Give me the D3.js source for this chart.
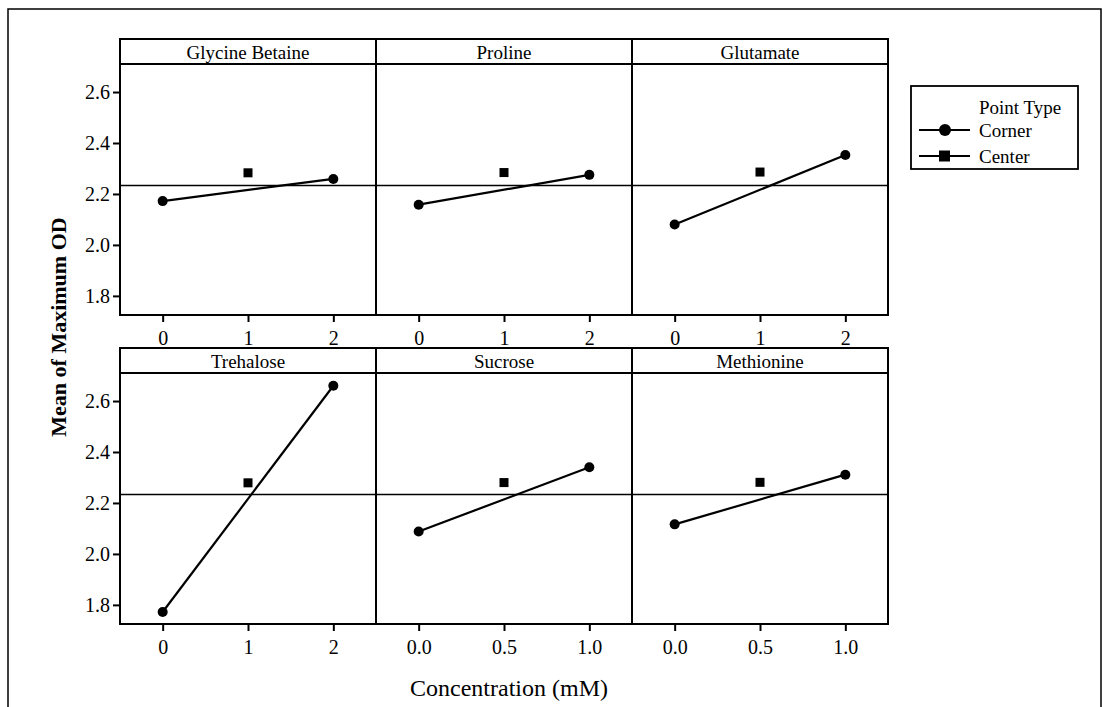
<!DOCTYPE html>
<html>
<head>
<meta charset="utf-8">
<script src="https://cdn.jsdelivr.net/npm/d3@7"></script>
<style>
  body { margin: 0; background: #fff; }
  svg text { font-family: "Liberation Serif", "DejaVu Serif", serif; fill: #000; }
</style>
</head>
<body>
<div id="chart"></div>
<script>
// Main effects plot: mean of maximum OD per factor level
const factors = ['Glycine Betaine', 'Proline', 'Glutamate', 'Trehalose', 'Sucrose', 'Methionine'];
const lowLevel = [0, 0, 0, 0, 0, 0];
const highLevel = [2, 2, 2, 2, 1, 1];
const centerLevel = [1, 1, 1, 1, 0.5, 0.5];
const cornerLow = [2.172, 2.158, 2.080, 1.772, 2.088, 2.116];
const cornerHigh = [2.259, 2.275, 2.353, 2.660, 2.340, 2.311];
const centerMean = [2.283, 2.284, 2.286, 2.279, 2.280, 2.281];
const grandMean = 2.233;
const yTicks = [1.8, 2.0, 2.2, 2.4, 2.6];
const xTicksWide = [0, 1, 2];
const xTicksNarrow = [0.0, 0.5, 1.0];
const legendLabels = ['Corner', 'Center'];

const W = 1103, H = 707;
const serif = '"Liberation Serif", "DejaVu Serif", serif';
const gridLeft = 120, colW = 256;
const rowTop = [39, 348], stripH = 25, plotH = 251;

const svg = d3.select('#chart').append('svg')
	.attr('width', W).attr('height', H)
	.attr('font-family', serif);

// outer frame (bottom edge runs off the picture)
svg.append('rect')
	.attr('x', 8).attr('y', 9)
	.attr('width', 1093).attr('height', 720)
	.attr('fill', 'none').attr('stroke', '#000').attr('stroke-width', 1.5);

const y = d3.scaleLinear().domain([1.725, 2.71]).range([plotH, 0]);

factors.forEach(function(name, i) {
	const col = i % 3, row = Math.floor(i / 3);
	const px = gridLeft + col * colW;
	const top = rowTop[row];
	const py = top + stripH;

	const wide = highLevel[i] == 2;
	const x = d3.scaleLinear()
		.domain(wide ? [-0.5, 2.5] : [-0.25, 1.25])
		.range([0, colW]);

	const g = svg.append('g').attr('transform', 'translate(' + px + ',' + py + ')');

	// strip label
	svg.append('rect')
		.attr('x', px).attr('y', top)
		.attr('width', colW).attr('height', stripH)
		.attr('fill', 'none').attr('stroke', '#000').attr('stroke-width', 2);
	svg.append('text')
		.attr('x', px + colW / 2).attr('y', top + stripH / 2 + 1)
		.attr('text-anchor', 'middle').attr('dominant-baseline', 'central')
		.style('font-size', '19px')
		.text(name);

	// panel box
	g.append('rect')
		.attr('width', colW).attr('height', plotH)
		.attr('fill', 'none').attr('stroke', '#000').attr('stroke-width', 2);

	// grand mean reference line
	g.append('line')
		.attr('x1', 0).attr('x2', colW)
		.attr('y1', y(grandMean)).attr('y2', y(grandMean))
		.attr('stroke', '#000').attr('stroke-width', 1.6);

	// x axis
	const xa = g.append('g')
		.attr('transform', 'translate(0,' + plotH + ')')
		.call(d3.axisBottom(x)
			.tickValues(wide ? xTicksWide : xTicksNarrow)
			.tickFormat(wide ? d3.format('d') : d3.format('.1f'))
			.tickSize(7).tickPadding(9))
		.attr('font-family', serif).attr('font-size', 20);
	xa.select('.domain').remove();
	xa.selectAll('line').attr('stroke-width', 2);

	// y axis on the first column
	if (col == 0) {
		const ya = g.append('g')
			.call(d3.axisLeft(y).tickValues(yTicks)
				.tickFormat(d3.format('.1f'))
				.tickSize(7).tickPadding(3))
			.attr('font-family', serif).attr('font-size', 20);
		ya.select('.domain').remove();
		ya.selectAll('line').attr('stroke-width', 2);
	}

	// corner points joined by line
	const corners = [[lowLevel[i], cornerLow[i]], [highLevel[i], cornerHigh[i]]];
	g.append('path')
		.datum(corners)
		.attr('d', d3.line().x(d => x(d[0])).y(d => y(d[1])))
		.attr('fill', 'none').attr('stroke', '#000').attr('stroke-width', 2.2);
	g.selectAll('circle.corner')
		.data(corners).enter().append('circle')
		.attr('class', 'corner')
		.attr('cx', d => x(d[0])).attr('cy', d => y(d[1]))
		.attr('r', 5).attr('fill', '#000');

	// center point
	g.append('rect')
		.attr('x', x(centerLevel[i]) - 4.5)
		.attr('y', y(centerMean[i]) - 4.5)
		.attr('width', 9).attr('height', 9)
		.attr('fill', '#000');
});

// axis titles
svg.append('text')
	.attr('transform', 'translate(58,327) rotate(-90)')
	.attr('text-anchor', 'middle').attr('dominant-baseline', 'central')
	.style('font-size', '22px').style('font-weight', 'bold')
	.text('Mean of Maximum OD');
svg.append('text')
	.attr('x', 509).attr('y', 688)
	.attr('text-anchor', 'middle').attr('dominant-baseline', 'central')
	.style('font-size', '24px')
	.text('Concentration (mM)');

// legend
const lg = svg.append('g').attr('transform', 'translate(911,86)');
lg.append('rect')
	.attr('width', 167).attr('height', 83)
	.attr('fill', 'none').attr('stroke', '#000').attr('stroke-width', 1.8);
lg.append('text')
	.attr('x', 68).attr('y', 21)
	.attr('dominant-baseline', 'central')
	.style('font-size', '19px')
	.text('Point Type');
const items = lg.selectAll('g.item')
	.data(legendLabels).enter().append('g')
	.attr('class', 'item')
	.attr('transform', (d, i) => 'translate(0,' + (44 + i * 26) + ')');
items.append('line')
	.attr('x1', 8).attr('x2', 59)
	.attr('stroke', '#000').attr('stroke-width', 2);
items.filter((d, i) => i == 0).append('circle')
	.attr('cx', 34).attr('r', 6).attr('fill', '#000');
items.filter((d, i) => i == 1).append('rect')
	.attr('x', 28).attr('y', -5.5).attr('width', 11).attr('height', 11)
	.attr('fill', '#000');
items.append('text')
	.attr('x', 68).attr('dominant-baseline', 'central')
	.style('font-size', '19px')
	.text(d => d);
</script>
</body>
</html>
